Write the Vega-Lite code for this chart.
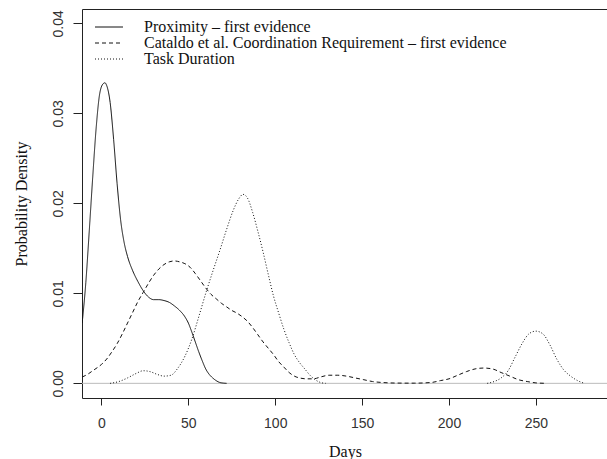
{
  "$schema": "https://vega.github.io/schema/vega-lite/v6.json",
  "width": 526,
  "height": 389,
  "autosize": "none",
  "padding": {"left": 82, "top": 9, "right": 0, "bottom": 61},
  "background": "white",
  "config": {
    "view": {"stroke": "#222", "strokeWidth": 1},
    "axis": {"grid": false, "domain": false, "tickColor": "#222", "labelFont": "Liberation Sans", "labelFontSize": 14, "labelColor": "#333", "titleFont": "Liberation Serif", "titleFontSize": 16, "titleFontWeight": "normal", "titleColor": "#111"}
  },
  "datasets": {
    "curves": [
      {"s": "Proximity – first evidence", "g": "p", "x": -11.1, "y": 0.0067},
      {"s": "Proximity – first evidence", "g": "p", "x": -9, "y": 0.0112},
      {"s": "Proximity – first evidence", "g": "p", "x": -7, "y": 0.017},
      {"s": "Proximity – first evidence", "g": "p", "x": -5, "y": 0.023},
      {"s": "Proximity – first evidence", "g": "p", "x": -3, "y": 0.0285},
      {"s": "Proximity – first evidence", "g": "p", "x": -1, "y": 0.0322},
      {"s": "Proximity – first evidence", "g": "p", "x": 1, "y": 0.0333},
      {"s": "Proximity – first evidence", "g": "p", "x": 2, "y": 0.0334},
      {"s": "Proximity – first evidence", "g": "p", "x": 3, "y": 0.0331},
      {"s": "Proximity – first evidence", "g": "p", "x": 5, "y": 0.0312},
      {"s": "Proximity – first evidence", "g": "p", "x": 7, "y": 0.0271},
      {"s": "Proximity – first evidence", "g": "p", "x": 9, "y": 0.0222},
      {"s": "Proximity – first evidence", "g": "p", "x": 11, "y": 0.0182},
      {"s": "Proximity – first evidence", "g": "p", "x": 13, "y": 0.0157},
      {"s": "Proximity – first evidence", "g": "p", "x": 15, "y": 0.0141},
      {"s": "Proximity – first evidence", "g": "p", "x": 18, "y": 0.0125},
      {"s": "Proximity – first evidence", "g": "p", "x": 21, "y": 0.0113},
      {"s": "Proximity – first evidence", "g": "p", "x": 24, "y": 0.0103},
      {"s": "Proximity – first evidence", "g": "p", "x": 27, "y": 0.0096},
      {"s": "Proximity – first evidence", "g": "p", "x": 30, "y": 0.0093},
      {"s": "Proximity – first evidence", "g": "p", "x": 33, "y": 0.0093},
      {"s": "Proximity – first evidence", "g": "p", "x": 36, "y": 0.0092},
      {"s": "Proximity – first evidence", "g": "p", "x": 39, "y": 0.009},
      {"s": "Proximity – first evidence", "g": "p", "x": 42, "y": 0.0086},
      {"s": "Proximity – first evidence", "g": "p", "x": 45, "y": 0.0081},
      {"s": "Proximity – first evidence", "g": "p", "x": 48, "y": 0.0074},
      {"s": "Proximity – first evidence", "g": "p", "x": 50, "y": 0.0067},
      {"s": "Proximity – first evidence", "g": "p", "x": 52, "y": 0.0057},
      {"s": "Proximity – first evidence", "g": "p", "x": 54, "y": 0.0046},
      {"s": "Proximity – first evidence", "g": "p", "x": 56, "y": 0.0035},
      {"s": "Proximity – first evidence", "g": "p", "x": 58, "y": 0.0025},
      {"s": "Proximity – first evidence", "g": "p", "x": 60, "y": 0.0016},
      {"s": "Proximity – first evidence", "g": "p", "x": 62, "y": 0.001},
      {"s": "Proximity – first evidence", "g": "p", "x": 64, "y": 0.0006},
      {"s": "Proximity – first evidence", "g": "p", "x": 66, "y": 0.0003},
      {"s": "Proximity – first evidence", "g": "p", "x": 68, "y": 0.0001},
      {"s": "Proximity – first evidence", "g": "p", "x": 70, "y": 0.00003},
      {"s": "Proximity – first evidence", "g": "p", "x": 72, "y": 0},
      {"s": "Cataldo et al. Coordination Requirement – first evidence", "g": "c", "x": -11.1, "y": 0.0007},
      {"s": "Cataldo et al. Coordination Requirement – first evidence", "g": "c", "x": -8, "y": 0.001},
      {"s": "Cataldo et al. Coordination Requirement – first evidence", "g": "c", "x": -5, "y": 0.0014},
      {"s": "Cataldo et al. Coordination Requirement – first evidence", "g": "c", "x": -2, "y": 0.0018},
      {"s": "Cataldo et al. Coordination Requirement – first evidence", "g": "c", "x": 0, "y": 0.0021},
      {"s": "Cataldo et al. Coordination Requirement – first evidence", "g": "c", "x": 3, "y": 0.0027},
      {"s": "Cataldo et al. Coordination Requirement – first evidence", "g": "c", "x": 6, "y": 0.0035},
      {"s": "Cataldo et al. Coordination Requirement – first evidence", "g": "c", "x": 9, "y": 0.0044},
      {"s": "Cataldo et al. Coordination Requirement – first evidence", "g": "c", "x": 12, "y": 0.0055},
      {"s": "Cataldo et al. Coordination Requirement – first evidence", "g": "c", "x": 15, "y": 0.0067},
      {"s": "Cataldo et al. Coordination Requirement – first evidence", "g": "c", "x": 18, "y": 0.0079},
      {"s": "Cataldo et al. Coordination Requirement – first evidence", "g": "c", "x": 21, "y": 0.0091},
      {"s": "Cataldo et al. Coordination Requirement – first evidence", "g": "c", "x": 24, "y": 0.0101},
      {"s": "Cataldo et al. Coordination Requirement – first evidence", "g": "c", "x": 27, "y": 0.0111},
      {"s": "Cataldo et al. Coordination Requirement – first evidence", "g": "c", "x": 30, "y": 0.012},
      {"s": "Cataldo et al. Coordination Requirement – first evidence", "g": "c", "x": 33, "y": 0.0127},
      {"s": "Cataldo et al. Coordination Requirement – first evidence", "g": "c", "x": 36, "y": 0.0132},
      {"s": "Cataldo et al. Coordination Requirement – first evidence", "g": "c", "x": 39, "y": 0.0135},
      {"s": "Cataldo et al. Coordination Requirement – first evidence", "g": "c", "x": 42, "y": 0.0136},
      {"s": "Cataldo et al. Coordination Requirement – first evidence", "g": "c", "x": 45, "y": 0.0135},
      {"s": "Cataldo et al. Coordination Requirement – first evidence", "g": "c", "x": 48, "y": 0.0133},
      {"s": "Cataldo et al. Coordination Requirement – first evidence", "g": "c", "x": 51, "y": 0.0129},
      {"s": "Cataldo et al. Coordination Requirement – first evidence", "g": "c", "x": 54, "y": 0.0122},
      {"s": "Cataldo et al. Coordination Requirement – first evidence", "g": "c", "x": 57, "y": 0.0114},
      {"s": "Cataldo et al. Coordination Requirement – first evidence", "g": "c", "x": 60, "y": 0.0106},
      {"s": "Cataldo et al. Coordination Requirement – first evidence", "g": "c", "x": 63, "y": 0.0099},
      {"s": "Cataldo et al. Coordination Requirement – first evidence", "g": "c", "x": 66, "y": 0.0094},
      {"s": "Cataldo et al. Coordination Requirement – first evidence", "g": "c", "x": 69, "y": 0.0089},
      {"s": "Cataldo et al. Coordination Requirement – first evidence", "g": "c", "x": 72, "y": 0.0085},
      {"s": "Cataldo et al. Coordination Requirement – first evidence", "g": "c", "x": 75, "y": 0.0081},
      {"s": "Cataldo et al. Coordination Requirement – first evidence", "g": "c", "x": 78, "y": 0.0078},
      {"s": "Cataldo et al. Coordination Requirement – first evidence", "g": "c", "x": 81, "y": 0.0074},
      {"s": "Cataldo et al. Coordination Requirement – first evidence", "g": "c", "x": 84, "y": 0.0069},
      {"s": "Cataldo et al. Coordination Requirement – first evidence", "g": "c", "x": 87, "y": 0.0062},
      {"s": "Cataldo et al. Coordination Requirement – first evidence", "g": "c", "x": 90, "y": 0.0054},
      {"s": "Cataldo et al. Coordination Requirement – first evidence", "g": "c", "x": 93, "y": 0.0046},
      {"s": "Cataldo et al. Coordination Requirement – first evidence", "g": "c", "x": 96, "y": 0.0039},
      {"s": "Cataldo et al. Coordination Requirement – first evidence", "g": "c", "x": 99, "y": 0.0032},
      {"s": "Cataldo et al. Coordination Requirement – first evidence", "g": "c", "x": 102, "y": 0.0024},
      {"s": "Cataldo et al. Coordination Requirement – first evidence", "g": "c", "x": 105, "y": 0.0018},
      {"s": "Cataldo et al. Coordination Requirement – first evidence", "g": "c", "x": 108, "y": 0.0012},
      {"s": "Cataldo et al. Coordination Requirement – first evidence", "g": "c", "x": 111, "y": 0.0008},
      {"s": "Cataldo et al. Coordination Requirement – first evidence", "g": "c", "x": 114, "y": 0.0006},
      {"s": "Cataldo et al. Coordination Requirement – first evidence", "g": "c", "x": 118, "y": 0.0005},
      {"s": "Cataldo et al. Coordination Requirement – first evidence", "g": "c", "x": 122, "y": 0.0005},
      {"s": "Cataldo et al. Coordination Requirement – first evidence", "g": "c", "x": 126, "y": 0.0007},
      {"s": "Cataldo et al. Coordination Requirement – first evidence", "g": "c", "x": 131, "y": 0.0009},
      {"s": "Cataldo et al. Coordination Requirement – first evidence", "g": "c", "x": 136, "y": 0.0009},
      {"s": "Cataldo et al. Coordination Requirement – first evidence", "g": "c", "x": 141, "y": 0.0008},
      {"s": "Cataldo et al. Coordination Requirement – first evidence", "g": "c", "x": 146, "y": 0.0006},
      {"s": "Cataldo et al. Coordination Requirement – first evidence", "g": "c", "x": 151, "y": 0.0004},
      {"s": "Cataldo et al. Coordination Requirement – first evidence", "g": "c", "x": 156, "y": 0.0002},
      {"s": "Cataldo et al. Coordination Requirement – first evidence", "g": "c", "x": 161, "y": 0.0001},
      {"s": "Cataldo et al. Coordination Requirement – first evidence", "g": "c", "x": 170, "y": 0.00003},
      {"s": "Cataldo et al. Coordination Requirement – first evidence", "g": "c", "x": 180, "y": 0.00002},
      {"s": "Cataldo et al. Coordination Requirement – first evidence", "g": "c", "x": 190, "y": 0.0001},
      {"s": "Cataldo et al. Coordination Requirement – first evidence", "g": "c", "x": 195, "y": 0.0003},
      {"s": "Cataldo et al. Coordination Requirement – first evidence", "g": "c", "x": 200, "y": 0.0005},
      {"s": "Cataldo et al. Coordination Requirement – first evidence", "g": "c", "x": 205, "y": 0.0009},
      {"s": "Cataldo et al. Coordination Requirement – first evidence", "g": "c", "x": 210, "y": 0.0013},
      {"s": "Cataldo et al. Coordination Requirement – first evidence", "g": "c", "x": 215, "y": 0.0016},
      {"s": "Cataldo et al. Coordination Requirement – first evidence", "g": "c", "x": 220, "y": 0.0017},
      {"s": "Cataldo et al. Coordination Requirement – first evidence", "g": "c", "x": 225, "y": 0.0016},
      {"s": "Cataldo et al. Coordination Requirement – first evidence", "g": "c", "x": 230, "y": 0.0012},
      {"s": "Cataldo et al. Coordination Requirement – first evidence", "g": "c", "x": 235, "y": 0.0008},
      {"s": "Cataldo et al. Coordination Requirement – first evidence", "g": "c", "x": 240, "y": 0.0004},
      {"s": "Cataldo et al. Coordination Requirement – first evidence", "g": "c", "x": 245, "y": 0.0002},
      {"s": "Cataldo et al. Coordination Requirement – first evidence", "g": "c", "x": 250, "y": 0.00005},
      {"s": "Cataldo et al. Coordination Requirement – first evidence", "g": "c", "x": 256, "y": 0},
      {"s": "Task Duration", "g": "t1", "x": 5, "y": 0},
      {"s": "Task Duration", "g": "t1", "x": 10, "y": 0.0002},
      {"s": "Task Duration", "g": "t1", "x": 15, "y": 0.0006},
      {"s": "Task Duration", "g": "t1", "x": 20, "y": 0.0011},
      {"s": "Task Duration", "g": "t1", "x": 24, "y": 0.0014},
      {"s": "Task Duration", "g": "t1", "x": 28, "y": 0.0013},
      {"s": "Task Duration", "g": "t1", "x": 32, "y": 0.001},
      {"s": "Task Duration", "g": "t1", "x": 36, "y": 0.0008},
      {"s": "Task Duration", "g": "t1", "x": 40, "y": 0.0009},
      {"s": "Task Duration", "g": "t1", "x": 44, "y": 0.0017},
      {"s": "Task Duration", "g": "t1", "x": 48, "y": 0.003},
      {"s": "Task Duration", "g": "t1", "x": 52, "y": 0.0049},
      {"s": "Task Duration", "g": "t1", "x": 56, "y": 0.0074},
      {"s": "Task Duration", "g": "t1", "x": 60, "y": 0.01},
      {"s": "Task Duration", "g": "t1", "x": 64, "y": 0.0124},
      {"s": "Task Duration", "g": "t1", "x": 68, "y": 0.0147},
      {"s": "Task Duration", "g": "t1", "x": 72, "y": 0.0171},
      {"s": "Task Duration", "g": "t1", "x": 76, "y": 0.0193},
      {"s": "Task Duration", "g": "t1", "x": 79, "y": 0.0205},
      {"s": "Task Duration", "g": "t1", "x": 81.5, "y": 0.021},
      {"s": "Task Duration", "g": "t1", "x": 84, "y": 0.0206},
      {"s": "Task Duration", "g": "t1", "x": 87, "y": 0.019},
      {"s": "Task Duration", "g": "t1", "x": 90, "y": 0.0169},
      {"s": "Task Duration", "g": "t1", "x": 93, "y": 0.0146},
      {"s": "Task Duration", "g": "t1", "x": 96, "y": 0.0121},
      {"s": "Task Duration", "g": "t1", "x": 99, "y": 0.0097},
      {"s": "Task Duration", "g": "t1", "x": 102, "y": 0.0078},
      {"s": "Task Duration", "g": "t1", "x": 105, "y": 0.006},
      {"s": "Task Duration", "g": "t1", "x": 108, "y": 0.0045},
      {"s": "Task Duration", "g": "t1", "x": 111, "y": 0.0032},
      {"s": "Task Duration", "g": "t1", "x": 114, "y": 0.0023},
      {"s": "Task Duration", "g": "t1", "x": 117, "y": 0.0016},
      {"s": "Task Duration", "g": "t1", "x": 120, "y": 0.0009},
      {"s": "Task Duration", "g": "t1", "x": 123, "y": 0.0004},
      {"s": "Task Duration", "g": "t1", "x": 126, "y": 0.0001},
      {"s": "Task Duration", "g": "t1", "x": 129, "y": 0},
      {"s": "Task Duration", "g": "t2", "x": 222, "y": 0},
      {"s": "Task Duration", "g": "t2", "x": 226, "y": 0.0002},
      {"s": "Task Duration", "g": "t2", "x": 230, "y": 0.0006},
      {"s": "Task Duration", "g": "t2", "x": 234, "y": 0.0014},
      {"s": "Task Duration", "g": "t2", "x": 238, "y": 0.0029},
      {"s": "Task Duration", "g": "t2", "x": 242, "y": 0.0044},
      {"s": "Task Duration", "g": "t2", "x": 246, "y": 0.0055},
      {"s": "Task Duration", "g": "t2", "x": 250, "y": 0.0058},
      {"s": "Task Duration", "g": "t2", "x": 254, "y": 0.0055},
      {"s": "Task Duration", "g": "t2", "x": 258, "y": 0.0043},
      {"s": "Task Duration", "g": "t2", "x": 262, "y": 0.0027},
      {"s": "Task Duration", "g": "t2", "x": 266, "y": 0.0015},
      {"s": "Task Duration", "g": "t2", "x": 270, "y": 0.0008},
      {"s": "Task Duration", "g": "t2", "x": 274, "y": 0.0003},
      {"s": "Task Duration", "g": "t2", "x": 278, "y": 0}
    ]
  },
  "layer": [
    {
      "data": {"values": [{"z": 0}]},
      "mark": {"type": "rule", "color": "#bbbbbb", "strokeWidth": 1},
      "encoding": {"y": {"field": "z", "type": "quantitative", "scale": {"domain": [-0.00163, 0.0416], "nice": false, "zero": false}}}
    },
    {
      "data": {"name": "curves"},
      "mark": {"type": "line", "interpolate": "monotone", "strokeWidth": 1, "color": "#111", "clip": true},
      "encoding": {
        "x": {"field": "x", "type": "quantitative", "scale": {"domain": [-11.2, 291.5], "nice": false, "zero": false},
              "axis": {"values": [0, 50, 100, 150, 200, 250], "title": "Days", "tickSize": 7, "labelBaseline": "alphabetic", "labelPadding": 22, "titleBaseline": "alphabetic", "titleY": 58, "titlePadding": 0}},
        "y": {"field": "y", "type": "quantitative", "scale": {"domain": [-0.00163, 0.0416], "nice": false, "zero": false},
              "axis": {"values": [0, 0.01, 0.02, 0.03, 0.04], "format": ".2f", "title": "Probability Density", "tickSize": 9, "labelAngle": -90, "labelBaseline": "alphabetic", "labelAlign": "center", "labelPadding": 11, "titleX": -53}},
        "detail": {"field": "g"},
        "strokeDash": {"field": "s", "type": "nominal",
          "scale": {"domain": ["Proximity – first evidence", "Cataldo et al. Coordination Requirement – first evidence", "Task Duration"], "range": [[1, 0], [4, 3], [1, 2]]},
          "legend": {"title": null, "orient": "none", "legendX": 19, "legendY": 10, "padding": 0, "symbolType": "M-3,0H3", "symbolSize": 87, "symbolStrokeColor": "#111", "symbolStrokeWidth": 1, "labelFont": "Liberation Serif", "labelFontSize": 16, "labelColor": "#111", "labelOffset": 27, "rowPadding": -3, "labelLimit": 600}}
      }
    }
  ]
}
